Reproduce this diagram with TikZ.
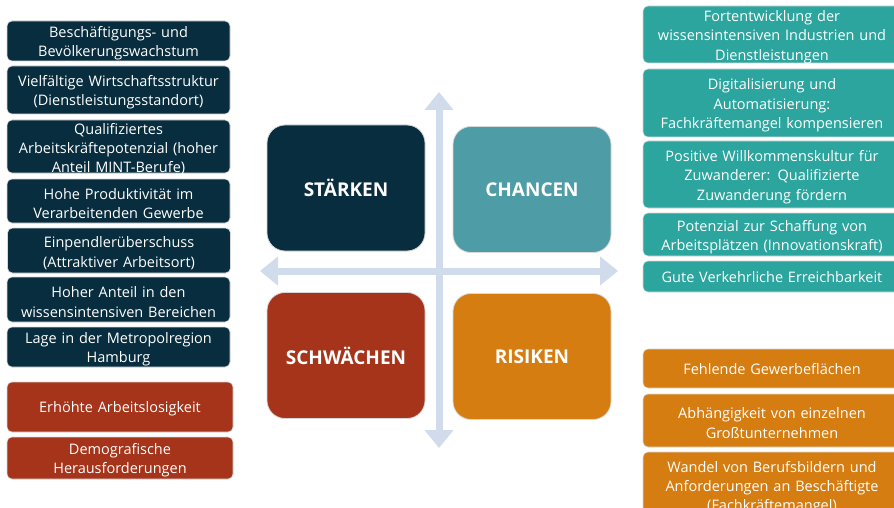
\documentclass[tikz,border=0pt]{standalone}
\usepackage{fontspec}
\setmainfont{Open Sans}
\usetikzlibrary{arrows.meta}
\definecolor{navy}{HTML}{082D3E}
\definecolor{tealbox}{HTML}{2BA59E}
\definecolor{tealquad}{HTML}{4E9CA6}
\definecolor{redbox}{HTML}{A5341A}
\definecolor{orangebox}{HTML}{D67D12}
\definecolor{axis}{HTML}{D0DCEC}
\definecolor{rim}{HTML}{D8D8D8}
\newcommand{\sboxend}{\par\vspace*{-5pt}}
\begin{document}
\begin{tikzpicture}[x=1pt,y=-1pt,
  sbox/.style={rounded corners=5pt, draw=rim, line width=0.6pt, text=white, align=center,
    inner sep=0pt, font=\fontsize{14.5}{19.3}\selectfont,
    execute at end node=\sboxend},
  navybox/.style={sbox, fill=navy, minimum width=223pt, text width=222pt},
  redboxs/.style={sbox, fill=redbox, minimum width=226pt, text width=224pt},
  tealboxs/.style={sbox, fill=tealbox, minimum width=258pt, text width=252pt},
  orangeboxs/.style={sbox, fill=orangebox, minimum width=258pt, text width=252pt},
  quad/.style={rounded corners=18pt, draw=rim, line width=0.8pt, text=white,
    minimum width=158pt, minimum height=126pt, inner sep=0pt,
    font=\fontsize{19}{23}\selectfont\bfseries},
  axisarrow/.style={draw=axis, line width=7pt,
    {Triangle[width=28pt,length=18pt]}-{Triangle[width=28pt,length=18pt]}}
]
\useasboundingbox (0,0) rectangle (894,508);
\clip (0,0) rectangle (894,508);
\fill[white] (0,0) rectangle (894,508);

% axes
\coordinate (vt) at (439,92);
\coordinate (vb) at (439,448);
\coordinate (hl) at (260,271);
\coordinate (hr) at (618,271);
\draw[axisarrow] (vt) -- (vb);
\draw[axisarrow] (hl) -- (hr);

% quadrants
\node[quad, fill=navy] (st) at (346,188) {STÄRKEN};
\node[quad, fill=tealquad] (ch) at (532,189.5) {CHANCEN};
\node[quad, fill=redbox] (sw) at (346,355.5) {SCHWÄCHEN};
\node[quad, fill=orangebox] (ri) at (532,356.5) {RISIKEN};

% strengths
\node[navybox, minimum height=40pt] (s1) at (118.5,41) {Beschäftigungs- und\\Bevölkerungswachstum};
\node[navybox, minimum height=48pt] (s2) at (118.5,90) {Vielfältige Wirtschaftsstruktur\\(Dienstleistungsstandort)};
\node[navybox, minimum height=53pt] (s3) at (118.5,146.5) {Qualifiziertes\\Arbeitskräftepotenzial (hoher\\Anteil MINT-Berufe)};
\node[navybox, minimum height=44pt] (s4) at (118.5,201) {Hohe Produktivität im\\Verarbeitenden Gewerbe};
\node[navybox, minimum height=45pt] (s5) at (119,250.5) {Einpendlerüberschuss\\(Attraktiver Arbeitsort)};
\node[navybox, minimum height=45pt] (s6) at (118.5,299.5) {Hoher Anteil in den\\wissensintensiven Bereichen};
\node[navybox, minimum height=40pt] (s7) at (118.5,347) {Lage in der Metropolregion\\Hamburg};

% weaknesses
\node[redboxs, minimum height=50pt] (w1) at (120,407) {Erhöhte Arbeitslosigkeit};
\node[redboxs, minimum height=42pt] (w2) at (120,458) {Demografische\\Herausforderungen};

% opportunities
\node[tealboxs, minimum height=57pt] (c1) at (772,34.5) {Fortentwicklung der\\wissensintensiven Industrien und\\Dienstleistungen};
\node[tealboxs, minimum height=68pt] (c2) at (772,103) {Digitalisierung und\\Automatisierung:\\Fachkräftemangel kompensieren};
\node[tealboxs, minimum height=67pt] (c3) at (772,174.5) {Positive Willkommenskultur für\\Zuwanderer: Qualifizierte\\Zuwanderung fördern};
\node[tealboxs, minimum height=43pt] (c4) at (772,234.5) {Potenzial zur Schaffung von\\Arbeitsplätzen (Innovationskraft)};
\node[tealboxs, minimum height=31pt] (c5) at (772,276.5) {Gute Verkehrliche Erreichbarkeit};

% threats
\node[orangeboxs, minimum height=39pt] (r1) at (772,368.5) {Fehlende Gewerbeflächen};
\node[orangeboxs, minimum height=53pt] (r2) at (772,420.5) {Abhängigkeit von einzelnen\\Großtunternehmen};
\node[orangeboxs, minimum height=66pt] (r3) at (772,485) {Wandel von Berufsbildern und\\Anforderungen an Beschäftigte\\(Fachkräftemangel)};
\end{tikzpicture}
\end{document}
